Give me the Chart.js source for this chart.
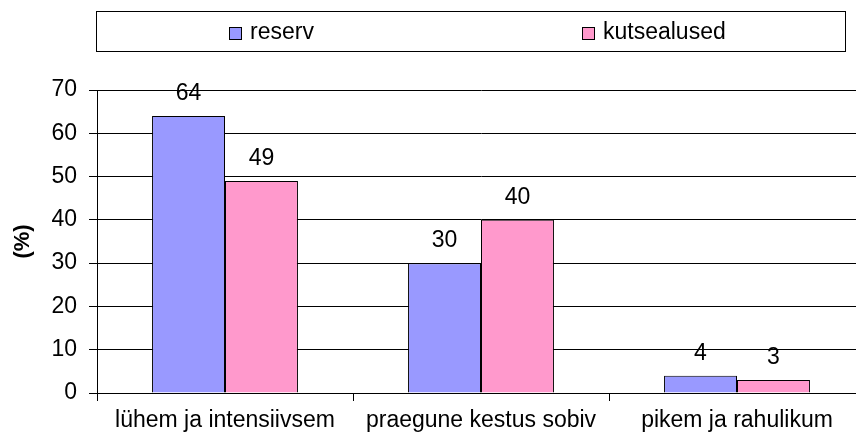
<!DOCTYPE html>
<html lang="et">
<head>
    <meta charset="UTF-8">
    <title>reserv / kutsealused</title>
    <style>
        html, body {
            margin: 0;
            padding: 0;
            background: #ffffff;
            overflow: hidden;
        }
        #chart {
            display: block;
        }
    </style>
</head>
<body>
    <canvas id="chart" width="866" height="439"></canvas>
    <script src="https://cdn.jsdelivr.net/npm/chart.js"></script>
    <script>
        const categories = ['lühem ja intensiivsem', 'praegune kestus sobiv', 'pikem ja rahulikum'];
        const reserv = [64, 30, 4];
        const kutsealused = [49, 40, 3];
        const seriesNames = ['reserv', 'kutsealused'];
        const yTicks = [0, 10, 20, 30, 40, 50, 60, 70];

        const FONT = '"Liberation Sans", Arial, sans-serif';
        const colors = ['#9999ff', '#ff99cc'];

        // value labels above the bars
        const valueLabels = {
            id: 'valueLabels',
            afterDatasetsDraw(chart) {
                const ctx = chart.ctx;
                ctx.save();
                ctx.font = '23px ' + FONT;
                ctx.fillStyle = '#000';
                ctx.textAlign = 'center';
                ctx.textBaseline = 'middle';
                chart.data.datasets.forEach((ds, i) => {
                    chart.getDatasetMeta(i).data.forEach((bar, j) => {
                        ctx.fillText(String(ds.data[j]), bar.x, bar.y - 22);
                    });
                });
                ctx.restore();
            }
        };

        // boxed legend at the top, items spread like the original
        const boxLegend = {
            id: 'boxLegend',
            afterDraw(chart) {
                const ctx = chart.ctx;
                ctx.save();
                ctx.strokeStyle = '#000';
                ctx.lineWidth = 1;
                ctx.strokeRect(96.5, 11.5, 749, 40);
                const items = [{ x: 229 }, { x: 582 }];
                ctx.font = '23px ' + FONT;
                ctx.textBaseline = 'middle';
                ctx.textAlign = 'left';
                items.forEach((it, i) => {
                    ctx.fillStyle = colors[i];
                    ctx.fillRect(it.x, 27, 12, 12);
                    ctx.strokeRect(it.x + 0.5, 27.5, 12, 12);
                    ctx.fillStyle = '#000';
                    ctx.fillText(seriesNames[i], it.x + 21, 33);
                });
                ctx.restore();
            }
        };

        const ctx = document.getElementById('chart').getContext('2d');
        const chart = new Chart(ctx, {
            type: 'bar',
            data: {
                labels: categories,
                datasets: [
                    {
                        label: seriesNames[0],
                        data: reserv,
                        backgroundColor: colors[0],
                        borderColor: '#000',
                        borderWidth: 1
                    },
                    {
                        label: seriesNames[1],
                        data: kutsealused,
                        backgroundColor: colors[1],
                        borderColor: '#000',
                        borderWidth: 1
                    }
                ]
            },
            options: {
                responsive: false,
                animation: false,
                layout: {
                    padding: { top: 90, right: 1, bottom: 0, left: 0 }
                },
                datasets: {
                    bar: {
                        categoryPercentage: 0.57,
                        barPercentage: 1.0
                    }
                },
                plugins: {
                    legend: { display: false },
                    tooltip: { enabled: false }
                },
                scales: {
                    x: {
                        afterFit(scale) { scale.height = 46; },
                        grid: {
                            drawOnChartArea: false,
                            color: '#000',
                            tickLength: 8
                        },
                        border: { color: '#000', width: 1 },
                        ticks: {
                            color: '#000',
                            font: { family: FONT, size: 23 },
                            padding: 6,
                            maxRotation: 0,
                            autoSkip: false
                        }
                    },
                    y: {
                        min: 0,
                        max: yTicks[yTicks.length - 1],
                        afterFit(scale) { scale.width = 97; },
                        afterBuildTicks(scale) {
                            scale.ticks = yTicks.map(v => ({ value: v }));
                        },
                        grid: {
                            color: '#000',
                            lineWidth: 1,
                            tickLength: 8
                        },
                        border: { color: '#000', width: 1 },
                        ticks: {
                            color: '#000',
                            font: { family: FONT, size: 23 },
                            padding: 12
                        },
                        title: {
                            display: true,
                            text: '(%)',
                            color: '#000',
                            font: { family: FONT, size: 22, weight: 'bold' },
                            padding: { top: 10, bottom: 0 }
                        }
                    }
                }
            },
            plugins: [valueLabels, boxLegend]
        });
    </script>
</body>
</html>
